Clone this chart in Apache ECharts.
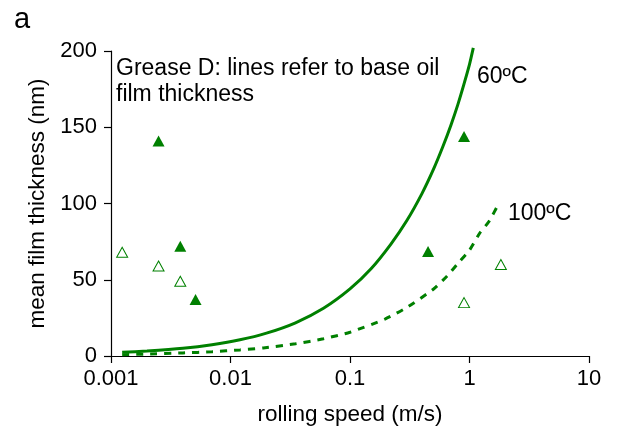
<!DOCTYPE html>
<html>
<head>
<meta charset="utf-8">
<script src="https://cdn.jsdelivr.net/npm/echarts@6/dist/echarts.min.js"></script>
<style>
  html, body { margin: 0; padding: 0; background: #fff; }
  #chart { width: 623px; height: 431px; }
</style>
</head>
<body>
<div id="chart"></div>
<script>
// base oil film thickness lines
const speed60 = [0.00124, 0.002, 0.004, 0.007, 0.012, 0.02, 0.035, 0.06, 0.1, 0.15, 0.22, 0.3, 0.4, 0.5, 0.6, 0.7, 0.8, 0.9, 1.0, 1.076]
const film60 = [2.4, 3.3, 5.1, 7.4, 10.6, 15.0, 21.8, 31.3, 44, 57.2, 73.4, 89, 106.5, 122.5, 137.5, 151.5, 165, 178.4, 191.2, 202]

const speed100 = [0.00124, 0.002, 0.004, 0.007, 0.012, 0.0188, 0.035, 0.06, 0.1, 0.196, 0.3, 0.498, 0.65, 0.833, 1.0, 1.224, 1.45, 1.74]
const film100 = [0.9, 1.25, 2.0, 2.8, 4.0, 5.3, 8.0, 11.3, 15.6, 24.2, 31.9, 43.8, 52.5, 62.3, 69.4, 80.8, 88, 99.3]

// measured grease film thickness
const greaseSpeed60 = [0.0025, 0.0038, 0.0051, 0.45, 0.9]
const greaseFilm60 = [141, 72, 37, 68.5, 144]
const greaseSpeed100 = [0.00124, 0.0025, 0.0038, 0.9, 1.83]
const greaseFilm100 = [68, 59, 49, 35, 60]

const xTicks = ["0.001", "0.01", "0.1", "1", "10"]

const green = "#008000"
const font = "'Liberation Sans', Arial, sans-serif"

const zip = (xs, ys) => xs.map((x, i) => [x, ys[i]])

const chart = echarts.init(document.getElementById("chart"), null, { renderer: "canvas" })

chart.setOption({
  backgroundColor: "#fff",
  animation: false,
  textStyle: { fontFamily: font, color: "#000" },
  grid: { left: 111, right: 34, top: 51, bottom: 74 },
  xAxis: {
    type: "log",
    logBase: 10,
    min: 0.001,
    max: 10,
    name: "rolling speed (m/s)",
    nameLocation: "middle",
    nameGap: 47,
    nameTextStyle: { fontSize: 22.5, color: "#000", fontFamily: font },
    axisLine: { lineStyle: { color: "#000", width: 1.2 } },
    axisTick: { inside: false, length: 7, lineStyle: { color: "#000", width: 1.2 } },
    minorTick: { show: false },
    splitLine: { show: false },
    axisLabel: {
      fontSize: 22,
      color: "#000",
      margin: 12,
      fontFamily: font,
      formatter: (v) => xTicks[Math.round(Math.log10(v)) + 3],
    },
  },
  yAxis: {
    type: "value",
    min: 0,
    max: 200,
    interval: 50,
    name: "mean film thickness (nm)",
    nameLocation: "middle",
    nameGap: 62,
    nameTextStyle: { fontSize: 22.5, color: "#000", fontFamily: font },
    axisLine: { show: true, lineStyle: { color: "#000", width: 1.2 } },
    axisTick: { show: true, inside: false, length: 7, lineStyle: { color: "#000", width: 1.2 } },
    splitLine: { show: false },
    axisLabel: { fontSize: 22, color: "#000", margin: 14, fontFamily: font },
  },
  series: [
    {
      name: "60ºC",
      type: "line",
      data: zip(speed60, film60),
      smooth: 0.2,
      showSymbol: false,
      clip: false,
      lineStyle: { color: green, width: 3 },
    },
    {
      name: "100ºC",
      type: "line",
      data: zip(speed100, film100),
      smooth: 0.2,
      showSymbol: false,
      lineStyle: { color: green, width: 3, type: [7, 7] },
    },
    {
      name: "grease 60ºC",
      type: "scatter",
      data: zip(greaseSpeed60, greaseFilm60),
      symbol: "triangle",
      symbolSize: [12, 11],
      itemStyle: { color: green, opacity: 1 },
    },
    {
      name: "grease 100ºC",
      type: "scatter",
      data: zip(greaseSpeed100, greaseFilm100),
      symbol: "triangle",
      symbolSize: [11, 10],
      itemStyle: { color: "#fff", borderColor: green, borderWidth: 1, opacity: 1 },
    },
  ],
  graphic: [
    {
      type: "text",
      left: 14,
      top: 5,
      style: { text: "a", fontSize: 29, fontFamily: font, fill: "#000" },
    },
    {
      type: "text",
      x: 116,
      y: 56,
      style: {
        text: "Grease D: lines refer to base oil\nfilm thickness",
        fontSize: 23,
        lineHeight: 26,
        fontFamily: font,
        fill: "#000",
        verticalAlign: "top",
      },
    },
    {
      type: "text",
      x: 477,
      y: 77,
      style: { text: "60ºC", fontSize: 23, fontFamily: font, fill: "#000", verticalAlign: "middle" },
    },
    {
      type: "text",
      x: 508,
      y: 214,
      style: { text: "100ºC", fontSize: 23, fontFamily: font, fill: "#000", verticalAlign: "middle" },
    },
  ],
})
</script>
</body>
</html>
